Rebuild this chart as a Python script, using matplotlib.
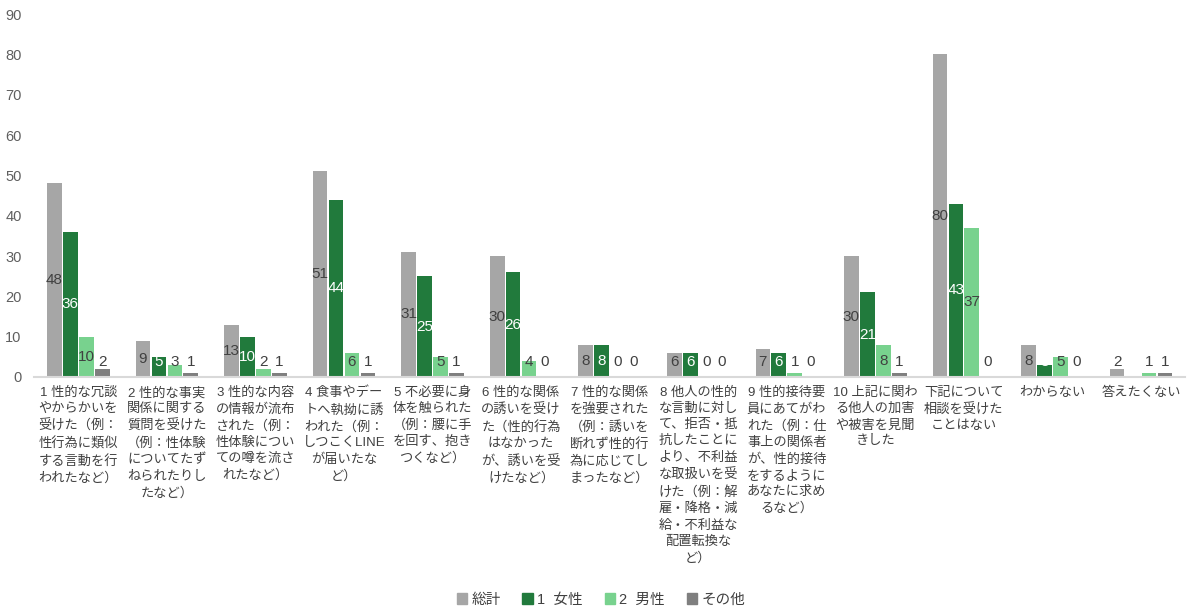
import numpy as np
import matplotlib.pyplot as plt
from matplotlib.patches import Patch

plt.rcParams['font.family'] = ['Liberation Sans', 'Noto Sans CJK JP']

categories = [
    "1 性的な冗談\nやからかいを\n受けた（例：\n性行為に類似\nする言動を行\nわれたなど）",
    "2 性的な事実\n関係に関する\n質問を受けた\n（例：性体験\nについてたず\nねられたりし\nたなど）",
    "3 性的な内容\nの情報が流布\nされた（例：\n性体験につい\nての噂を流さ\nれたなど）",
    "4 食事やデー\nトへ執拗に誘\nわれた（例：\nしつこくLINE\nが届いたな\nど）",
    "5 不必要に身\n体を触られた\n（例：腰に手\nを回す、抱き\nつくなど）",
    "6 性的な関係\nの誘いを受け\nた（性的行為\nはなかった\nが、誘いを受\nけたなど）",
    "7 性的な関係\nを強要された\n（例：誘いを\n断れず性的行\n為に応じてし\nまったなど）",
    "8 他人の性的\nな言動に対し\nて、拒否・抵\n抗したことに\nより、不利益\nな取扱いを受\nけた（例：解\n雇・降格・減\n給・不利益な\n配置転換な\nど）",
    "9 性的接待要\n員にあてがわ\nれた（例：仕\n事上の関係者\nが、性的接待\nをするように\nあなたに求め\nるなど）",
    "10 上記に関わ\nる他人の加害\nや被害を見聞\nきした",
    "下記について\n相談を受けた\nことはない",
    "わからない",
    "答えたくない",
]

series_names = ["総計", "1  女性", "2  男性", "その他"]
total = [48, 9, 13, 51, 31, 30, 8, 6, 7, 30, 80, 8, 2]
female = [36, 5, 10, 44, 25, 26, 8, 6, 6, 21, 43, 3, 0]
male = [10, 3, 2, 6, 5, 4, 0, 0, 1, 8, 37, 5, 1]
other = [2, 1, 1, 1, 1, 0, 0, 0, 0, 1, 0, 0, 1]

colors = ["#a6a6a6", "#217a3c", "#78d28e", "#7f7f7f"]
label_colors = ["#404040", "#ffffff", "#404040", "#404040"]

fig = plt.figure(figsize=(11.9, 6.13), dpi=100)
ax = fig.add_axes([0.0286, 0.385, 0.9674, 0.592])

x = np.arange(len(categories))
w = 0.18
series = [total, female, male, other]
for i, vals in enumerate(series):
    xs = x + (i - 1.5) * w
    ax.bar(xs, vals, width=w * 0.92, color=colors[i], zorder=2)
    for xi, v in zip(xs, vals):
        # the 0 of 女性 in 答えたくない has no label in the source
        if i == 1 and v == 0:
            continue
        y = max(v / 2, 3.6)
        ax.text(xi, y, str(v), ha='center', va='center', fontsize=11,
                color=label_colors[i], zorder=3)

ax.set_xlim(-0.5, len(categories) - 0.5)
ax.set_ylim(0, 90)
ax.set_yticks(range(0, 91, 10))
ax.tick_params(axis='y', length=0, labelsize=10.5, labelcolor='#5f5f5f', pad=9)
ax.set_xticks(x)
ax.set_xticklabels(categories, fontsize=9.5, color='#404040', va='top',
                   linespacing=1.45)
ax.tick_params(axis='x', length=0, pad=7)
for s in ['top', 'right', 'left']:
    ax.spines[s].set_visible(False)
ax.spines['bottom'].set_color('#d9d9d9')
ax.spines['bottom'].set_linewidth(1.5)

handles = [Patch(color=c) for c in colors]
fig.legend(handles, series_names, loc='center', bbox_to_anchor=(0.505, 0.022),
           ncol=4, frameon=False, fontsize=10.5, handlelength=0.7,
           handleheight=0.7, handletextpad=0.3, columnspacing=1.5,
           labelcolor='#404040')

fig.savefig("out.png", dpi=100)
